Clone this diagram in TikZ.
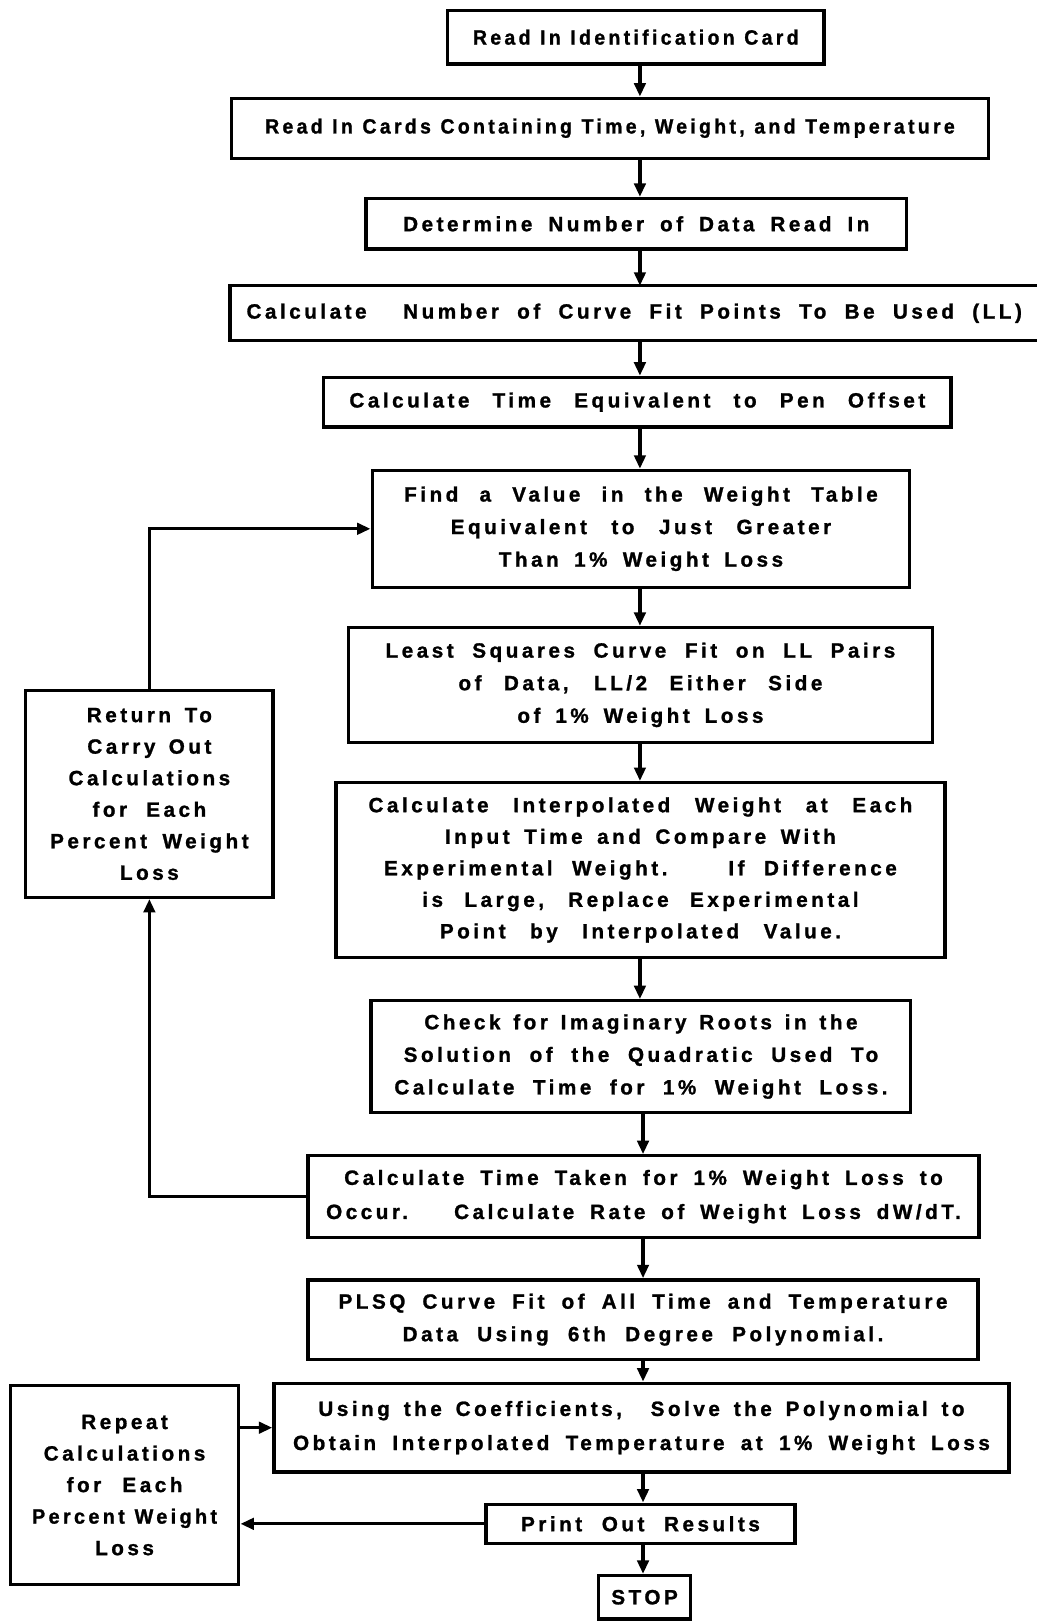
\documentclass[tikz,border=0pt]{standalone}
\usepackage{graphicx}
\usepackage{fontspec}
\setmainfont{Liberation Sans}[LetterSpace=17,WordSpace=1.1,BoldFeatures={FakeBold=1.2}]
\usetikzlibrary{arrows.meta}
\newlength\wltmp
\newcommand\wl[2]{\settowidth\wltmp{#2}\ifdim\wltmp>#1pt\relax\resizebox{#1pt}{\height}{#2}\else\makebox[#1pt][s]{#2}\fi}
\hbadness=10000
\begin{document}
\begin{tikzpicture}[x=1pt,y=-1pt,
  box/.style={draw, line width=3.2pt, inner sep=0pt, align=center,
    font=\fontsize{20}{31.5}\selectfont\bfseries},
  arr/.style={line width=3.2pt, -{Triangle[length=13pt,width=11pt]}},
  ln/.style={line width=3.2pt}]
\useasboundingbox (0,0) rectangle (1003,1568);
\fill[white] (0,0) rectangle (1003,1568);
\coordinate (ax) at (619,0);
\coordinate (bx) at (622,0);

\node[box, minimum width=364, minimum height=52] (b1) at (615,36) {\wl{315}{Read In Identification Card}};
\node[box, minimum width=732, minimum height=58] (b2) at (590,124) {\wl{667}{Read In Cards Containing Time, Weight, and Temperature}};
\node[box, minimum width=523, minimum height=49] (b3) at (615.5,216.5) {\wl{451}{Determine Number of Data Read In}};
\node[box, draw=none, minimum width=779, minimum height=50] (b4) at (613.5,303) {\wl{750}{Calculate \ Number of Curve Fit Points To Be Used (LL)}};
\draw[ln] (b4.north east) -- (b4.north west) -- (b4.south west) -- (b4.south east);
\node[box, minimum width=607, minimum height=48] (b5) at (616.5,389) {\wl{557}{Calculate Time Equivalent to Pen Offset}};
\node[box, minimum width=520, minimum height=113] (b6) at (620,511.5) {\wl{458}{Find a Value in the Weight Table}\\\wl{368}{Equivalent to Just Greater}\\\wl{275}{Than 1\% Weight Loss}};
\node[box, minimum width=565, minimum height=111] (b7) at (619.5,662.5) {\wl{493}{Least Squares Curve Fit on LL Pairs}\\\wl{352}{of Data, LL/2 Either Side}\\\wl{238}{of 1\% Weight Loss}};
\node[box, minimum width=589, minimum height=169, font=\fontsize{20}{30.5}\selectfont\bfseries] (b8) at (619.5,841.5) {\wl{526}{Calculate Interpolated Weight at Each}\\\wl{378}{Input Time and Compare With}\\\wl{496}{Experimental Weight. \ If Difference}\\\wl{422}{is Large, Replace Experimental}\\\wl{388}{Point by Interpolated Value.}};
\node[box, minimum width=522, minimum height=108] (b9) at (620,1022) {\wl{419}{Check for Imaginary Roots in the}\\\wl{459}{Solution of the Quadratic Used To}\\\wl{477}{Calculate Time for 1\% Weight Loss.}};
\node[box, minimum width=649, minimum height=79, font=\fontsize{20}{33}\selectfont\bfseries] (b10) at (622.5,1157.5) {\wl{579}{Calculate Time Taken for 1\% Weight Loss to}\\\wl{614}{Occur. \ Calculate Rate of Weight Loss dW/dT.}};
\node[box, minimum width=648, minimum height=77] (b11) at (622,1276.5) {\wl{589}{PLSQ Curve Fit of All Time and Temperature}\\\wl{465}{Data Using 6th Degree Polynomial.}};
\node[box, minimum width=711, minimum height=86, font=\fontsize{20}{33}\selectfont\bfseries] (b12) at (620.5,1381) {\wl{625}{Using the Coefficients, \ Solve the Polynomial to}\\\wl{674}{Obtain Interpolated Temperature at 1\% Weight Loss}};
\node[box, minimum width=299, minimum height=38] (b13) at (619.5,1474) {\wl{231}{Print Out Results}};
\node[box, minimum width=89, minimum height=42] (b14) at (623.5,1545) {STOP};
\node[box, minimum width=239, minimum height=200, font=\fontsize{20}{30.5}\selectfont\bfseries] (b15) at (144.5,768) {\wl{121}{Return To}\\\wl{120}{Carry Out}\\Calculations\\\wl{110}{for Each}\\\wl{192}{Percent Weight}\\Loss};
\node[box, minimum width=221, minimum height=193, font=\fontsize{20}{30.5}\selectfont\bfseries] (b16) at (120.5,1436.5) {Repeat\\Calculations\\\wl{112}{for Each}\\\wl{179}{Percent Weight}\\Loss};

\draw[arr] (b1.south -| ax) -- (b2.north -| ax);
\draw[arr] (b2.south -| ax) -- (b3.north -| ax);
\draw[arr] (b3.south -| ax) -- (b4.north -| ax);
\draw[arr] (b4.south -| ax) -- (b5.north -| ax);
\draw[arr] (b5.south -| ax) -- (b6.north -| ax);
\draw[arr] (b6.south -| ax) -- (b7.north -| ax);
\draw[arr] (b7.south -| ax) -- (b8.north -| ax);
\draw[arr] (b8.south -| ax) -- (b9.north -| ax);
\draw[arr] (b9.south -| bx) -- (b10.north -| bx);
\draw[arr] (b10.south -| bx) -- (b11.north -| bx);
\draw[arr] (b11.south -| bx) -- (b12.north -| bx);
\draw[arr] (b12.south -| bx) -- (b13.north -| bx);
\draw[arr] (b13.south -| bx) -- (b14.north -| bx);

\draw[arr] (b10.west) -| (b15.south);
\draw[arr] (b15.north) |- (b6.west);
\draw[arr] (b13.west) -- (b16.east |- b13.west);
\draw[arr] (b16.east |- b12.west) -- (b12.west);
\end{tikzpicture}
\end{document}
